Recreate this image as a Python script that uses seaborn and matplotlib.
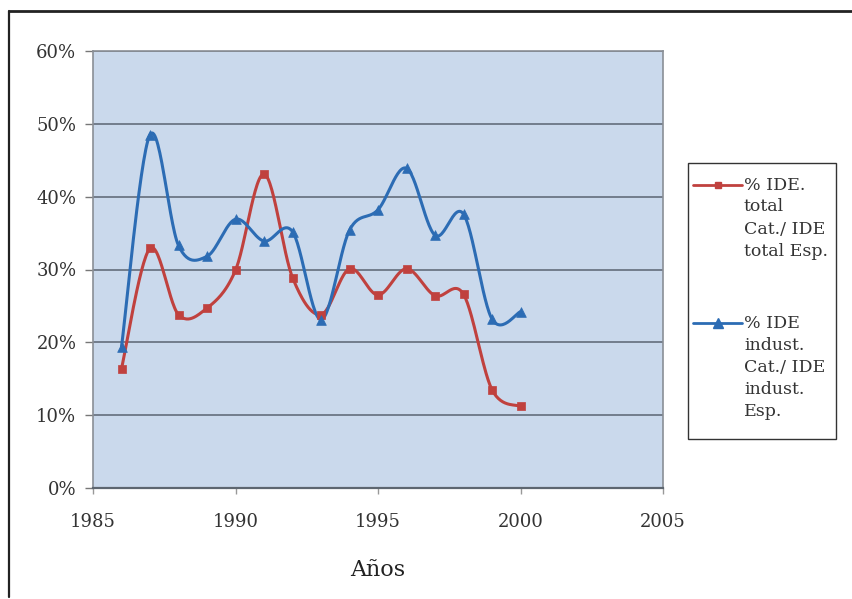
import numpy as np
import pandas as pd
import matplotlib
matplotlib.use("Agg")
import matplotlib.pyplot as plt
from matplotlib.lines import Line2D
from matplotlib.patches import Rectangle
from matplotlib.ticker import FuncFormatter
import seaborn as sns

years = [1986, 1987, 1988, 1989, 1990, 1991, 1992, 1993, 1994, 1995, 1996, 1997, 1998, 1999, 2000]
ide_total = [16.4, 32.9, 23.8, 24.7, 29.9, 43.1, 28.9, 23.8, 30.1, 26.5, 30.1, 26.4, 26.6, 13.5, 11.2]
ide_indust = [19.4, 48.5, 33.3, 31.8, 36.9, 33.9, 35.2, 23.1, 35.4, 38.2, 43.9, 34.7, 37.6, 23.2, 24.2]
series_labels = ["% IDE.\ntotal\nCat./ IDE\ntotal Esp.",
                 "% IDE\nindust.\nCat./ IDE\nindust.\nEsp."]
y_ticks = [0, 10, 20, 30, 40, 50, 60]
x_ticks = [1985, 1990, 1995, 2000, 2005]

RED = "#c0413e"
BLUE = "#2c6cb4"
W, H = 852, 599


def smooth(xs, ys, n=30):
    """Catmull-Rom style cubic Bezier through every point (spreadsheet 'smoothed line')."""
    x = np.asarray(xs, float)
    y = np.asarray(ys, float)
    px = np.concatenate([[x[0]], x, [x[-1]]])
    py = np.concatenate([[y[0]], y, [y[-1]]])
    out_x, out_y = [], []
    t = np.linspace(0, 1, n)
    for i in range(1, len(px) - 2):
        p0 = np.array([px[i], py[i]])
        p3 = np.array([px[i + 1], py[i + 1]])
        c1 = p0 + (np.array([px[i + 1], py[i + 1]]) - np.array([px[i - 1], py[i - 1]])) / 6
        c2 = p3 - (np.array([px[i + 2], py[i + 2]]) - np.array([px[i], py[i]])) / 6
        b = ((1 - t) ** 3)[:, None] * p0 + (3 * (1 - t) ** 2 * t)[:, None] * c1 \
            + (3 * (1 - t) * t ** 2)[:, None] * c2 + (t ** 3)[:, None] * p3
        if i > 1:
            b = b[1:]
        out_x.extend(b[:, 0])
        out_y.extend(b[:, 1])
    return np.array(out_x), np.array(out_y)


def fx(px):
    return px / W


def fy(py):
    return 1 - py / H


sns.set_theme(style="white")
plt.rcParams["font.family"] = ["DejaVu Serif"]

fig = plt.figure(figsize=(W / 100, H / 100), dpi=100)
ax = fig.add_axes([fx(93), fy(488), 570 / W, 437 / H])
ax.set_facecolor("#cad9ec")

for vals, color, marker, ms in [(ide_total, RED, "s", 6), (ide_indust, BLUE, "^", 7)]:
    sx, sy = smooth(years, vals)
    curve = pd.DataFrame({"year": sx, "value": sy})
    sns.lineplot(data=curve, x="year", y="value", ax=ax, color=color, lw=2.2,
                 sort=False, estimator=None, zorder=3)
    pts = pd.DataFrame({"year": years, "value": vals})
    sns.scatterplot(data=pts, x="year", y="value", ax=ax, color=color, marker=marker,
                    s=ms ** 2, edgecolor=color, linewidth=0.5, zorder=4)

ax.set_xlim(1985, 2005)
ax.set_ylim(0, 60)
ax.set_xticks(x_ticks)
ax.set_yticks(y_ticks)
ax.yaxis.set_major_formatter(FuncFormatter(lambda v, p: f"{v:.0f}%"))
ax.grid(axis="y", color="#6b7684", lw=1.3)
ax.grid(axis="x", visible=False)
ax.set_axisbelow(True)

for side in ["left", "bottom", "right", "top"]:
    ax.spines[side].set_visible(True)
    ax.spines[side].set_color("#8a8f96")
    ax.spines[side].set_linewidth(1.2)
ax.spines["bottom"].set_color("#5d6670")
ax.spines["bottom"].set_linewidth(1.6)

ax.tick_params(axis="y", left=True, length=6, width=1, color="#777", labelsize=13,
               labelcolor="#333", pad=6)
ax.tick_params(axis="x", bottom=True, length=4, width=1, color="#999", labelsize=13,
               labelcolor="#333", pad=14)
ax.set_xlabel("Años", fontsize=16, color="#222", labelpad=20)
ax.set_ylabel("")

# Legend box to the right of the plot area
fig.add_artist(Rectangle((fx(688), fy(439)), (836 - 688) / W, (439 - 163) / H,
                         transform=fig.transFigure, fill=True, facecolor="white",
                         edgecolor="#333", lw=1))
legend_entries = [(RED, "s", 5, 185), (BLUE, "^", 6.5, 323)]
for (color, marker, ms, y0), label in zip(legend_entries, series_labels):
    fig.add_artist(Line2D([fx(693), fx(742)], [fy(y0), fy(y0)], color=color, lw=2,
                          transform=fig.transFigure))
    fig.add_artist(Line2D([fx(718)], [fy(y0)], color=color, marker=marker, markersize=ms,
                          transform=fig.transFigure))
    for k, line in enumerate(label.split("\n")):
        fig.text(fx(744), fy(y0 + 22 * k), line, fontsize=12.5, color="#333",
                 ha="left", va="center")

# Outer frame of the chart
fig.add_artist(Line2D([fx(9), fx(9)], [fy(597), fy(11)], color="#222", lw=1.6,
                      transform=fig.transFigure))
fig.add_artist(Line2D([fx(9), 1], [fy(11), fy(11)], color="#222", lw=2,
                      transform=fig.transFigure))

fig.savefig("out.png", dpi=100)
